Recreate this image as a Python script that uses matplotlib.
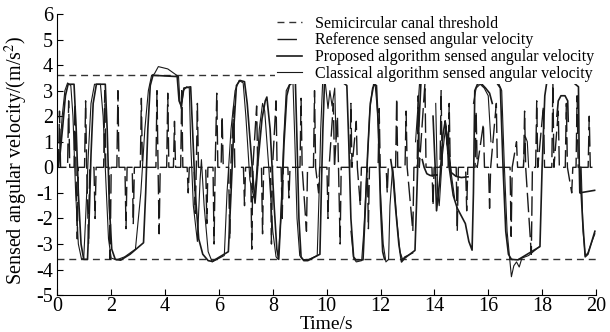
import numpy as np
import matplotlib
matplotlib.use('Agg')
from matplotlib import pyplot as plt

plt.rcParams['font.family'] = ['Liberation Serif', 'DejaVu Serif']
plt.rcParams['axes.unicode_minus'] = False
plt.rcParams['mathtext.fontset'] = 'stix'

nan = np.nan

# threshold of the semicircular canal
threshold = 3.6

# reference sensed angular velocity (long dashes)
ref_t = [0.00, 0.04, 0.08, 0.12, 0.38, 0.42, 0.46, 0.62, 0.66, 0.69, 0.74, 0.78,
         1.01, 1.05, 1.09, 1.16, 1.20, 1.36, 1.40, 1.44, 1.72, 1.76, 1.80,
         1.92, 1.96, 2.00, 2.21, 2.25, 2.29, 2.51, 2.55, 2.59, 2.78, 2.82, 2.86,
         3.08, 3.12, 3.16, 3.66, 3.70, 3.74, 3.78, 3.82, 4.06, 4.10, 4.14,
         4.31, 4.35, 4.39, 4.58, 4.62, 4.66, 4.82, 4.86, 4.90,
         5.08, 5.12, 5.16, 5.20, 5.24, 5.51, 5.55, 5.59,
         5.78, 5.82, 5.86, 5.92, 5.96, 6.08, 6.12, 6.16,
         6.36, 6.40, 6.44, 6.55, 6.59, 6.91, 6.95, 6.99,
         7.18, 7.22, 7.26, 7.40, 7.44, 7.58, 7.62, 7.66,
         7.91, 7.95, 7.99, 8.12, 8.16, 8.31, 8.35, 8.39, 8.56, 8.60, 8.64,
         9.01, 9.05, 9.09, 9.25, 9.29, 9.51, 9.55, 9.59, 9.70, 9.74,
         10.01, 10.05, 10.09, 10.25, 10.29, 10.40, 10.44, 10.50, 10.54,
         10.86, 10.90, 10.94, 11.10, 11.14, 11.25, 11.29, 11.51, 11.55, 11.59,
         11.91, 11.95, 11.99, 12.21, 12.25, 12.29, 12.56, 12.60, 12.64,
         12.91, 12.95, 12.99, 13.20, 13.24, 13.36, 13.40, 13.44, 13.65, 13.69,
         13.91, 13.95, 13.99, 14.21, 14.25, 14.29, 14.51, 14.55, 14.59,
         14.81, 14.85, 14.89, 15.16, 15.20, 15.24, 15.51, 15.55, 15.59, 15.82, 15.86,
         16.01, 16.05, 16.09, 16.30, 16.34, 16.81, 16.85, 16.89, 17.05, 17.09,
         17.31, 17.35, 17.39, 17.60, 17.64, 17.76, 17.80, 17.84, 18.05, 18.09,
         18.36, 18.40, 18.44, 18.60, 18.64, 18.86, 18.90, 18.94, 19.10, 19.14,
         19.26, 19.30, 19.34, 19.71, 19.75, 19.79, 19.87]
ref_v = [0, 0, 2.2, 0, 0, 2.6, 0, 0, 2.5, 0, -2.8, 0,
         0, 2.6, 0, -3.0, 0, 0, -2.0, 0, 0, 3.0, 0,
         0, -3.6, 0, 0, 3.0, 0, 0, -2.4, 0, 0, -2.2, 0,
         0, 2.7, 0, 0, 3.0, 0, -2.6, 0, 0, 2.9, 0,
         0, 1.8, 0, 0, 3.0, 0, 0, -1.0, 0,
         0, -1.8, 0, 2.5, 0, 0, -2.2, 0,
         0, -3.0, 0, 2.9, 0, 0, 2.0, 0,
         0, -2.8, 0, 2.4, 0, 0, -1.5, 0,
         0, -3.2, 0, 2.4, 0, 0, -2.6, 0,
         0, -3.0, 0, 2.6, 0, 0, -2.0, 0, 0, -1.2, 0,
         0, 2.7, 0, -2.5, 0, 0, 3.0, 0, -1.0, 0,
         0, -2.0, 0, 2.5, 0, 2.0, 0, -3.0, 0,
         0, 2.5, 0, 1.8, 0, -1.5, 0, 0, -2.4, 0,
         0, 2.3, 0, 0, -1.0, 0, 0, 2.7, 0,
         0, 2.2, 0, -2.5, 0, 0, 2.8, 0, 3.3, 0,
         0, -1.5, 0, 0, 3.0, 0, 0, 2.5, 0,
         0, -2.5, 0, 0, -1.7, 0, 0, 2.2, 0, 1.7, 0,
         0, -1.6, 0, 2.5, 0, 0, -2.7, 0, 1.0, 0,
         0, 2.2, 0, -3.4, 0, 0, 2.6, 0, 2.4, 0,
         0, 3.3, 0, 2.2, 0, 0, 2.5, 0, -1.0, 0,
         0, 2.8, 0, 0, 2.0, 0, 0]

# proposed algorithm sensed angular velocity
prop_t = [0.00, 0.10, 0.20, 0.30, 0.40, 0.62, 0.70, 0.78, 0.88, 0.98, 1.12, 1.18, 1.25,
          1.33, 1.45, 1.78, 1.85, 1.93, 2.02, 2.15, 2.35, 2.70, 3.20, 3.28, 3.36, 3.45,
          3.55, 4.45, 4.52, 4.60, 4.70, 4.95, 5.02, 5.12, 5.25, 5.40, 5.60, 5.75, 6.35,
          6.45, 6.55, 6.65, 6.78, 6.95, 7.05, 7.20, 7.34, 7.45, 7.60, 7.72, 7.78, 7.90,
          8.05, 8.15, 8.22, 8.32, 8.42, 8.52, 8.64, 8.84, 8.90, 8.97, 9.05, 9.15, 9.30,
          9.75, 9.80, 9.86, 9.92, nan,
          10.62, 10.75, 10.82, 10.90, 11.00, 11.08, 11.35, 11.42, 11.52, 11.62, 11.75,
          11.85, 11.92, 12.00, 12.08, 12.15, nan,
          12.38, 12.45, 12.55, 12.68, 12.78, 12.90, 13.28, 13.35, 13.42, 13.50, nan,
          13.55, 13.62, 13.72, 13.85, 14.10, nan,
          13.95, 14.03, 14.08, 14.20, 14.32, 14.40, 14.50, 14.62, 14.80, 15.00, 15.25, nan,
          14.40, 14.55, 14.70, 14.85, 15.00, 15.15, 15.28, 15.40, 15.45, 15.50, 15.60,
          15.72, 15.90, 16.05, 16.15, nan,
          16.32, 16.45, 16.55, 16.65, 16.75, 16.86, 17.10, 17.92, 18.00, 18.10, 18.17, nan,
          18.55, 18.60, 18.70, 18.85, 18.95, 18.97, nan,
          19.18, 19.35, 19.38, 19.40, 19.50, 19.95, nan,
          19.40, 19.50, 19.60, 19.70, 19.96]
prop_v = [0.00, 0.50, 1.60, 2.80, 3.25, 3.25, 1.50, -1.00, -3.00, -3.60, -3.60, -2.00, 0.50,
          2.50, 3.25, 3.25, 1.50, -1.50, -3.20, -3.60, -3.63, -3.40, -2.95, -1.00, 1.50, 3.20,
          3.60, 3.55, 2.60, 2.40, 3.10, 3.15, 1.50, -1.00, -2.80, -3.40, -3.65, -3.68, -3.30,
          -1.00, 1.50, 3.20, 3.40, 3.35, 2.50, 0.50, -1.40, 0.20, 1.90, 2.60, 2.75, 1.50,
          -1.50, -3.20, -3.60, -1.50, 1.00, 2.80, 3.30, 3.30, 1.00, -2.00, -3.50, -3.65, -3.65,
          -3.40, -1.00, 1.50, 3.30, nan,
          3.30, 3.20, 1.00, -2.00, -3.50, -3.62, -3.62, -2.00, 0.50, 2.50, 3.25,
          3.20, 1.50, -1.50, -3.30, -3.60, nan,
          0.30, -0.20, -1.50, -3.00, -3.70, -3.55, -3.25, -1.00, 1.50, 3.30, nan,
          0.30, 0.00, -0.25, -0.32, -0.30, nan,
          2.00, 0.00, -1.70, -0.50, 1.30, 1.80, 0.80, -0.20, -0.35, -0.40, -0.37, nan,
          1.80, 0.00, -1.10, -1.60, -1.90, -2.20, -2.90, -3.24, -1.00, 3.00, 3.25,
          3.30, 3.10, 2.90, 2.50, nan,
          3.30, 3.10, 0.00, -2.50, -3.40, -3.60, -3.62, -3.10, 0.00, 2.80, 3.30, nan,
          2.00, 2.60, 2.80, 2.80, 2.60, 1.80, nan,
          3.30, 3.15, 0.00, -1.00, -0.98, -0.90, nan,
          0.00, -2.00, -3.50, -3.40, -2.50]

# classical algorithm sensed angular velocity
clas_t = [0.05, 0.18, 0.28, 0.38, 0.50, 0.58, 0.68, 0.78, 0.90, 0.98, 1.05, 1.15, 1.25,
          1.38, 1.60, 1.70, 1.80, 1.90, 2.00, 2.20, 2.50, 2.90, 3.10, 3.25, 3.38, 3.50,
          3.60, 3.75, 4.10, 4.50, 4.55, 4.60, 4.68, 4.80, 4.90, 4.95, 5.05, 5.20, 5.30,
          5.35, 5.45, 5.60, 5.75, 6.20, 6.30, 6.45, 6.60, 6.75, 6.90, 7.00, 7.15, 7.30,
          7.38, 7.50, 7.62, 7.70, 7.85, 8.00, 8.12, 8.20, 8.30, 8.40, 8.50, 8.60, 8.75,
          8.82, 8.90, 9.00, 9.10, 9.30, 9.65, 9.72, 9.78, 9.85, 9.95, 10.05, 10.12, 10.20,
          10.30, 10.35, nan,
          10.90, 11.00, 11.10, 11.30, 11.38, 11.50, 11.60, 11.70, 11.80, 11.90, 12.00,
          12.10, 12.20, 12.30, 12.35, 12.45, 12.50, 12.60, 12.72, 12.82, 12.90, 13.00,
          13.20, nan,
          13.30, 13.45, nan,
          14.05, 14.12, 14.18, 14.30, 14.42, 14.50, 14.62, 14.75, nan,
          15.45, 15.55, 15.70, 15.85, 16.00, 16.10, nan,
          16.40, 16.50, 16.60, 16.70, 16.80, 16.86, 16.95, 17.05, 17.15, 17.25, 17.50,
          17.90, nan,
          17.30, 17.38, 17.45, 17.50, nan,
          19.45, 19.52, 19.60, 19.70, 19.85, 19.96]
clas_v = [0.00, 2.00, 3.00, 3.30, 3.20, 2.00, -1.00, -3.00, -3.60, -3.55, -2.00, 0.50, 2.50,
          3.25, 3.25, 2.00, -0.50, -2.80, -3.55, -3.62, -3.50, -3.20, -1.00, 1.50, 3.00, 3.60,
          3.65, 3.94, 3.85, 3.55, 2.60, 2.30, 3.00, 3.15, 3.10, 1.00, -1.50, -2.90, -0.50,
          0.30, -1.50, -3.30, -3.70, -3.45, -1.00, 1.50, 3.00, 3.40, 3.30, 2.00, -0.50, -1.20,
          -0.50, 1.50, 2.50, 2.20, 0.00, -2.50, -3.50, -3.60, -2.00, 1.00, 3.00, 3.20, 3.30,
          1.00, -2.00, -3.45, -3.60, -3.62, -3.45, -1.00, 1.50, 3.30, 3.30, 2.30, 3.00, 2.40,
          3.10, 1.00, nan,
          -2.50, -3.55, -3.70, -3.65, -2.50, 0.00, 2.20, 3.10, 3.25, 2.00, -1.00,
          -3.00, -3.70, -3.60, -1.50, 0.00, -0.50, -2.00, -3.30, -3.60, -3.50, -3.45,
          -3.35, nan,
          1.00, 3.30, nan,
          2.50, -1.00, -1.50, 0.50, 1.60, 1.20, -0.20, -1.20, nan,
          2.50, 3.10, 3.25, 3.10, 2.80, 1.00, nan,
          3.25, 3.00, 0.00, -2.50, -3.60, -4.28, -3.85, -3.70, -3.90, -3.55, -3.45,
          -3.10, nan,
          0.00, 1.20, 1.00, 0.00, nan,
          0.00, -2.50, -3.45, -3.35, -2.90, -2.60]

col = '#1a1a1a'
fig, ax = plt.subplots(figsize=(6.1, 3.32), dpi=100)
fig.subplots_adjust(left=0.094, right=0.977, bottom=0.111, top=0.958)

ax.plot([0, 20], [threshold, threshold], color='#333333', lw=1.0, dashes=(5, 3.5),
        label='Semicircular canal threshold')
ax.plot([0, 20], [-threshold, -threshold], color='#333333', lw=1.0, dashes=(5, 3.5))
ax.plot(ref_t, ref_v, color=col, lw=1.0, dashes=(14, 4),
        label='Reference sensed angular velocity')
ax.plot(prop_t, prop_v, color=col, lw=1.2, label='Proposed algorithm sensed angular velocity')
ax.plot(clas_t, clas_v, color=col, lw=0.8, label='Classical algorithm sensed angular velocity')

ax.set_xlim(0, 20)
ax.set_ylim(-5, 6)
ax.set_xticks(range(0, 21, 2))
ax.set_yticks(range(-5, 7))
ax.spines['top'].set_visible(False)
ax.spines['right'].set_visible(False)
ax.tick_params(direction='in', length=4, labelsize=14.5, pad=3)
ax.tick_params(axis='x', pad=1)
ax.set_xlabel('Time/s', fontsize=14, labelpad=0)
ax.xaxis.set_label_coords(0.5, -0.075)
ax.set_ylabel('Sensed angular velocity/(m/s$^2$)', fontsize=14.5, labelpad=1)
ax.yaxis.set_label_coords(-0.05, 0.48)

leg = ax.legend(loc='upper right', bbox_to_anchor=(1.0, 1.0), fontsize=11.5,
                handlelength=1.6, handletextpad=0.8, labelspacing=0.05,
                borderpad=0.1, borderaxespad=0.0, frameon=True, fancybox=False)
leg.get_frame().set_facecolor('white')
leg.get_frame().set_edgecolor('none')
leg.get_frame().set_alpha(1.0)

plt.savefig('out.png', dpi=100)
